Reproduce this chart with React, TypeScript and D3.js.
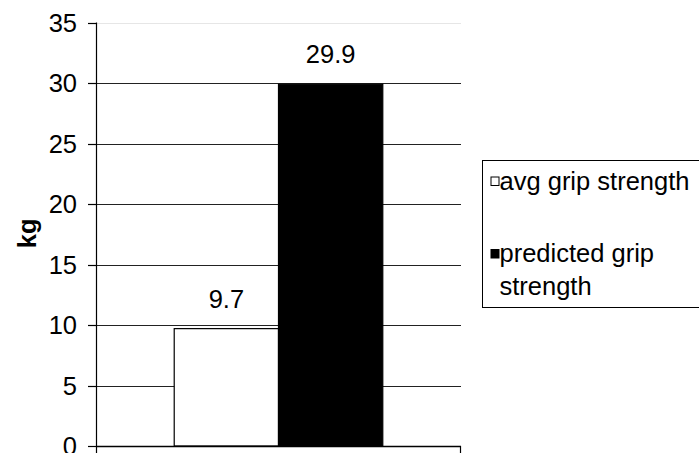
import React from "react";
import * as d3 from "d3";

const categories = ["grip"];
const seriesNames = ["avg grip strength", "predicted grip strength"];
const seriesValues = [9.7, 29.9];
const seriesFills = ["#ffffff", "#000000"];
const yTicks = [0, 5, 10, 15, 20, 25, 30, 35];
const legendLines = [["avg grip strength"], ["predicted grip", "strength"]];

const W = 699;
const H = 453;
const FONT = "'Liberation Sans', Arial, sans-serif";
const FS = 25.5;

export default function App() {
  const plotLeft = 96;
  const plotRight = 461;
  const plotTop = 22.5;
  const plotBottom = 446;

  const y = d3.scaleLinear().domain([0, 35]).range([plotBottom, plotTop]);
  const x0 = d3.scaleBand().domain(categories).range([plotLeft, plotRight]);
  // gap width of 150% of one bar, split across both sides of the group
  const barW = x0.bandwidth() / (seriesNames.length + 1.5);
  const center = (x0(categories[0]) ?? 0) + x0.bandwidth() / 2;
  const x1 = d3
    .scaleBand()
    .domain(seriesNames)
    .range([center - (barW * seriesNames.length) / 2, center + (barW * seriesNames.length) / 2]);

  return (
    <svg
      width={W}
      height={H}
      style={{ position: "absolute", left: 0, top: 0, background: "#fff" }}
      fontFamily={FONT}
    >
      {/* gridlines */}
      {yTicks.map((t) =>
        t === 0 ? null : (
          <line
            key={"g" + t}
            x1={plotLeft}
            x2={plotRight}
            y1={Math.round(y(t)) + 0.5}
            y2={Math.round(y(t)) + 0.5}
            stroke={t === 35 ? "#e6e6e6" : "#222"}
            strokeWidth={1}
          />
        )
      )}

      {/* bars */}
      {seriesNames.map((s, i) => {
        const bx = x1(s) ?? 0;
        const by = y(seriesValues[i]);
        return (
          <rect
            key={s}
            x={bx}
            y={by}
            width={x1.bandwidth()}
            height={plotBottom - by}
            fill={seriesFills[i]}
            stroke="#000"
            strokeWidth={1.2}
          />
        );
      })}

      {/* value labels */}
      {seriesNames.map((s, i) => (
        <text
          key={"v" + s}
          x={(x1(s) ?? 0) + x1.bandwidth() / 2}
          y={y(seriesValues[i]) - 21}
          textAnchor="middle"
          fontSize={FS}
          fill="#000"
        >
          {seriesValues[i].toFixed(1)}
        </text>
      ))}

      {/* y axis */}
      <line x1={plotLeft + 0.5} x2={plotLeft + 0.5} y1={plotTop} y2={H} stroke="#000" strokeWidth={1.2} />
      {yTicks.map((t) => (
        <g key={"t" + t}>
          <line
            x1={plotLeft - 8}
            x2={plotLeft}
            y1={Math.round(y(t)) + 0.5}
            y2={Math.round(y(t)) + 0.5}
            stroke="#000"
            strokeWidth={1.2}
          />
          <text
            x={plotLeft - 19}
            y={y(t)}
            dy="0.36em"
            textAnchor="end"
            fontSize={FS}
            fill="#000"
          >
            {t}
          </text>
        </g>
      ))}

      {/* x axis */}
      <line x1={plotLeft} x2={plotRight} y1={plotBottom + 0.5} y2={plotBottom + 0.5} stroke="#000" strokeWidth={1.5} />
      <line x1={plotRight - 0.5} x2={plotRight - 0.5} y1={plotBottom} y2={H} stroke="#000" strokeWidth={1.2} />

      {/* y axis title */}
      <text
        transform={`translate(36, ${(y(15) + y(20)) / 2 - 1}) rotate(-90)`}
        textAnchor="middle"
        fontSize={FS}
        fontWeight="bold"
        fill="#000"
      >
        kg
      </text>

      {/* legend */}
      <rect x={482.5} y={160.5} width={240} height={147} fill="#fff" stroke="#000" strokeWidth={1} />
      {seriesNames.map((s, i) => {
        const baseY = i === 0 ? 189.5 : 262;
        return (
          <g key={"l" + s}>
            <rect
              x={491}
              y={baseY - 12.5}
              width={8}
              height={8.5}
              fill={seriesFills[i]}
              stroke="#000"
              strokeWidth={1}
            />
            {legendLines[i].map((ln, j) => (
              <text key={ln} x={499.5} y={baseY + j * 32.5} fontSize={FS} fill="#000">
                {ln}
              </text>
            ))}
          </g>
        );
      })}
    </svg>
  );
}
